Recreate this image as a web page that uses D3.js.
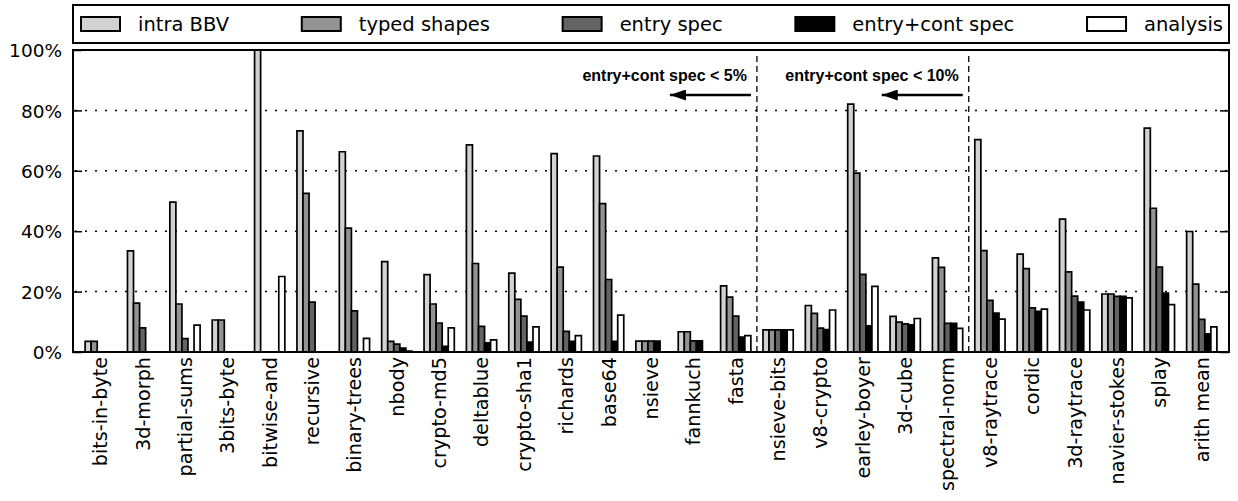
<!DOCTYPE html>
<html>
<head>
<meta charset="utf-8">
<script src="https://cdn.jsdelivr.net/npm/d3@7"></script>
<style>
  html, body { margin: 0; padding: 0; background: #fff; }
  svg { display: block; }
  text { font-family: "DejaVu Sans", sans-serif; fill: #000; }
</style>
</head>
<body>
<svg id="chart" width="1238" height="501"></svg>
<script>
// Benchmarks, ordered by entry+cont spec share
const categories = [
  "bits-in-byte", "3d-morph", "partial-sums", "3bits-byte", "bitwise-and",
  "recursive", "binary-trees", "nbody", "crypto-md5", "deltablue",
  "crypto-sha1", "richards", "base64", "nsieve", "fannkuch", "fasta",
  "nsieve-bits", "v8-crypto", "earley-boyer", "3d-cube", "spectral-norm",
  "v8-raytrace", "cordic", "3d-raytrace", "navier-stokes", "splay", "arith mean"
];

// Percentages per series, one entry per benchmark
const intraBBV = [3.5, 33.5, 49.6, 10.6, 100, 73.2, 66.3, 29.9, 25.6, 68.6,
  26.1, 65.7, 64.9, 3.6, 6.7, 21.9, 7.3, 15.4, 82.1, 11.8, 31.2,
  70.3, 32.4, 44.0, 19.2, 74.1, 39.9];
const typedShapes = [3.5, 16.2, 15.9, 10.6, 0, 52.5, 41.0, 3.5, 15.9, 29.3,
  17.4, 28.1, 49.1, 3.6, 6.7, 18.2, 7.3, 12.8, 59.2, 9.9, 28.0,
  33.6, 27.6, 26.5, 19.2, 47.6, 22.5];
const entrySpec = [0, 8.0, 4.4, 0, 0, 16.5, 13.6, 2.6, 9.6, 8.5,
  11.9, 6.8, 24.0, 3.6, 3.7, 11.9, 7.3, 7.9, 25.7, 9.3, 9.5,
  17.1, 14.6, 18.5, 18.4, 28.1, 10.8];
const entryContSpec = [0, 0, 0, 0, 0, 0, 0, 1.3, 1.9, 3.0,
  3.3, 3.5, 3.5, 3.6, 3.7, 4.9, 7.3, 7.4, 8.7, 9.0, 9.5,
  12.9, 13.5, 16.5, 18.4, 19.5, 6.0];
const analysis = [0, 0, 8.9, 0, 25.0, 0, 4.5, 0.3, 8.0, 4.0,
  8.3, 5.4, 12.2, 0, 0, 5.4, 7.3, 13.9, 21.7, 11.1, 7.8,
  10.9, 14.2, 13.9, 17.9, 15.7, 8.3];

const seriesNames = ["intra BBV", "typed shapes", "entry spec", "entry+cont spec", "analysis"];
const seriesValues = [intraBBV, typedShapes, entrySpec, entryContSpec, analysis];
const seriesColors = ["#d2d2d2", "#939393", "#636363", "#000000", "#ffffff"];

const yTicks = [0, 20, 40, 60, 80, 100];

// Group separators: boundary drawn after the named benchmark
const thresholdAfter = ["fasta", "spectral-norm"];
const thresholdLabels = ["entry+cont spec < 5%", "entry+cont spec < 10%"];

// ---- layout ----
const svg = d3.select("#chart");
const plot = { left: 73, right: 1229, top: 50, bottom: 352 };
const legendBox = { left: 73, right: 1229, top: 5, bottom: 43 };
const tickFont = 18.5, labelFont = 19.2, legendFont = 19.5;

const x0 = d3.scaleBand()
  .domain(categories)
  .range([plot.left, plot.right])
  .paddingInner(2 / 7)
  .paddingOuter(2 / 7);

const x1 = d3.scaleBand()
  .domain(seriesNames)
  .range([0, x0.bandwidth()])
  .padding(0);

const y = d3.scaleLinear()
  .domain([0, 100])
  .range([plot.bottom, plot.top]);

// Horizontal dotted grid
svg.append("g")
  .selectAll("line")
  .data(yTicks.filter(t => t > 0 && t < 100))
  .join("line")
  .attr("x1", plot.left).attr("x2", plot.right)
  .attr("y1", d => y(d)).attr("y2", d => y(d))
  .attr("stroke", "#000")
  .attr("stroke-width", 1.5)
  .attr("stroke-dasharray", "2,8")
  .attr("stroke-dashoffset", -2);

// Bars
const rows = categories.map((c, i) => ({
  cat: c,
  vals: seriesNames.map((s, k) => ({ series: s, value: seriesValues[k][i], color: seriesColors[k] }))
}));

const groups = svg.append("g")
  .selectAll("g")
  .data(rows)
  .join("g")
  .attr("transform", d => `translate(${x0(d.cat)},0)`);

groups.selectAll("path")
  .data(d => d.vals)
  .join("path")
  .attr("d", d => {
    const xa = x1(d.series), xb = xa + x1.bandwidth();
    const yb = y(0), yt = y(d.value);
    return `M${xa},${yb}V${yt}H${xb}V${yb}Z`;
  })
  .attr("fill", d => d.color)
  .attr("stroke", "#000")
  .attr("stroke-width", 1.7)
  .attr("stroke-linejoin", "miter");

// Separators between benchmark groups
const sepX = thresholdAfter.map(c => {
  const i = categories.indexOf(c);
  return (x0(categories[i]) + x0.bandwidth() + x0(categories[i + 1])) / 2;
});

svg.append("g")
  .selectAll("line")
  .data(sepX)
  .join("line")
  .attr("x1", d => d).attr("x2", d => d)
  .attr("y1", plot.bottom).attr("y2", plot.top + 4)
  .attr("stroke", "#000")
  .attr("stroke-width", 1.3)
  .attr("stroke-dasharray", "6,4");

// Arrow marker: tip sits at the line's end point
svg.append("defs").append("marker")
  .attr("id", "arrowhead")
  .attr("viewBox", "0 0 16 11")
  .attr("refX", 16).attr("refY", 5.5)
  .attr("markerUnits", "userSpaceOnUse")
  .attr("markerWidth", 16).attr("markerHeight", 11)
  .attr("orient", "auto")
  .append("path")
  .attr("d", "M0,0L16,5.5L0,11Z")
  .attr("fill", "#000");

const notes = svg.append("g")
  .selectAll("g")
  .data(sepX.map((sx, i) => ({ sx, label: thresholdLabels[i] })))
  .join("g");

notes.append("text")
  .attr("x", d => d.sx - 10)
  .attr("y", 81)
  .attr("text-anchor", "end")
  .style("font-family", "'Liberation Sans', Arial, sans-serif")
  .style("font-weight", "bold")
  .style("font-size", "16px")
  .text(d => d.label);

notes.append("line")
  .attr("x1", d => d.sx - 6)
  .attr("x2", d => d.sx - 87)
  .attr("y1", 95).attr("y2", 95)
  .attr("stroke", "#000")
  .attr("stroke-width", 2.4)
  .attr("marker-end", "url(#arrowhead)");

// Plot frame
svg.append("rect")
  .attr("x", plot.left).attr("y", plot.top)
  .attr("width", plot.right - plot.left)
  .attr("height", plot.bottom - plot.top)
  .attr("fill", "none")
  .attr("stroke", "#000")
  .attr("stroke-width", 2);

// Y axis: inward ticks on both sides
const yAxisL = d3.axisLeft(y).tickValues(yTicks).tickSize(-9).tickPadding(11)
  .tickFormat(d => d + "%");
const gy = svg.append("g").attr("transform", `translate(${plot.left},0)`).call(yAxisL);
gy.select(".domain").remove();
gy.selectAll(".tick line").attr("stroke", "#000").attr("stroke-width", 1.5);
gy.selectAll(".tick text")
  .style("font-family", "'DejaVu Sans', sans-serif")
  .style("font-size", tickFont + "px")
  .attr("dy", "0.36em");

const yAxisR = d3.axisRight(y).tickValues(yTicks).tickSize(-9).tickFormat("");
const gyr = svg.append("g").attr("transform", `translate(${plot.right},0)`).call(yAxisR);
gyr.select(".domain").remove();
gyr.selectAll(".tick line").attr("stroke", "#000").attr("stroke-width", 1.5);

// X axis labels (rotated), centred on each group
const xCenter = d => x0(d) + x0.bandwidth() / 2;
svg.append("g")
  .selectAll("text")
  .data(categories)
  .join("text")
  .attr("transform", d => `translate(${xCenter(d)},${plot.bottom + 5}) rotate(-90)`)
  .attr("text-anchor", "end")
  .attr("dy", "0.36em")
  .style("font-size", labelFont + "px")
  .text(d => d);

// Legend
svg.append("rect")
  .attr("x", legendBox.left).attr("y", legendBox.top)
  .attr("width", legendBox.right - legendBox.left)
  .attr("height", legendBox.bottom - legendBox.top)
  .attr("fill", "#fff")
  .attr("stroke", "#000")
  .attr("stroke-width", 2);

const swatchW = 39, swatchH = 14, textOffset = 57;
const legendMidY = (legendBox.top + legendBox.bottom) / 2;
const legendItems = svg.append("g")
  .selectAll("g")
  .data(seriesNames.map((s, k) => ({ s, color: seriesColors[k] })))
  .join("g");

legendItems.append("rect")
  .attr("width", swatchW).attr("height", swatchH)
  .attr("y", legendMidY - swatchH / 2)
  .attr("fill", d => d.color)
  .attr("stroke", "#000")
  .attr("stroke-width", 2);

legendItems.append("text")
  .attr("x", textOffset)
  .attr("y", legendMidY)
  .attr("dy", "0.36em")
  .style("font-size", legendFont + "px")
  .text(d => d.s);

// Spread entries evenly across the legend box
const widths = [];
legendItems.each(function () {
  widths.push(textOffset + d3.select(this).select("text").node().getComputedTextLength());
});
const startX = legendBox.left + 8, endX = legendBox.right - 6;
const gap = (endX - startX - d3.sum(widths)) / (widths.length - 1);
let cursor = startX;
legendItems.attr("transform", (d, i) => {
  const tx = cursor;
  cursor += widths[i] + gap;
  return `translate(${tx},0)`;
});
</script>
</body>
</html>
